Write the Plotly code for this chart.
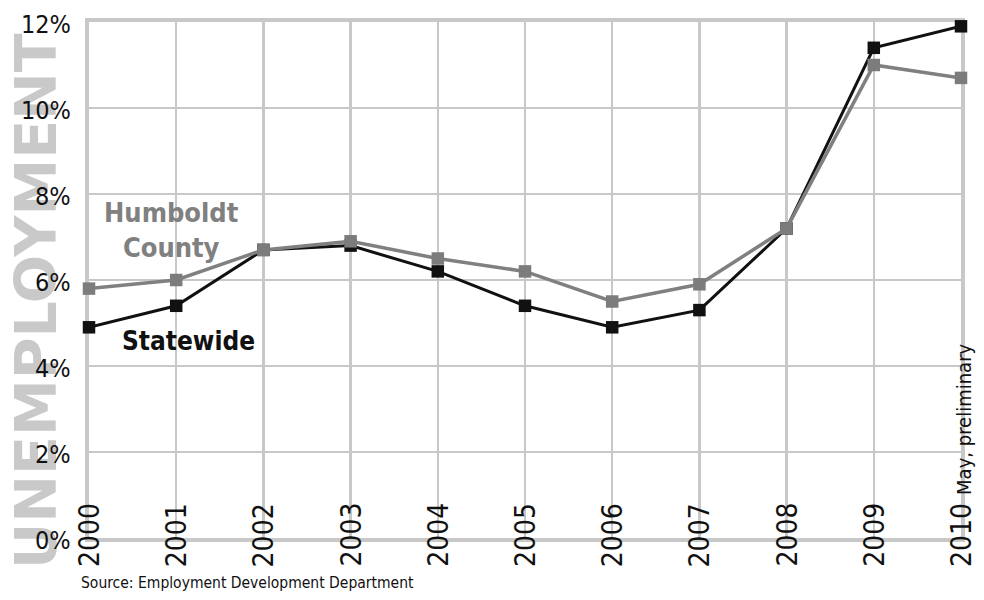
import plotly.graph_objects as go

years = [2000, 2001, 2002, 2003, 2004, 2005, 2006, 2007, 2008, 2009, 2010]
statewide = [4.9, 5.4, 6.7, 6.8, 6.2, 5.4, 4.9, 5.3, 7.2, 11.4, 11.9]
humboldt = [5.8, 6.0, 6.7, 6.9, 6.5, 6.2, 5.5, 5.9, 7.2, 11.0, 10.7]
year_labels = ["2000", "2001", "2002", "2003", "2004", "2005", "2006", "2007", "2008", "2009",
               "2010 <span style='font-size:20px'>May, preliminary</span>"]
y_ticks = [0, 2, 4, 6, 8, 10, 12]

NARROW = "DejaVu Sans Condensed, Liberation Sans Narrow, sans-serif"
GRID = "#c8c8c8"

W, H = 984, 600
ML, MR, MT, MB = 89, 23, 22, 62
PW, PH = W - ML - MR, H - MT - MB
X0, Y0 = ML, MT  # plot-area top-left in window pixels


def px(xp):
    return (xp - X0) / PW


def py(yp):
    return 1 - (yp - Y0) / PH


fig = go.Figure()
fig.add_trace(go.Scatter(
    x=years, y=statewide, mode="lines+markers", name="Statewide",
    line=dict(color="#111111", width=3),
    marker=dict(symbol="square", size=12.5, color="#111111"),
    cliponaxis=False, showlegend=False))
fig.add_trace(go.Scatter(
    x=years, y=humboldt, mode="lines+markers", name="Humboldt County",
    line=dict(color="#808080", width=3.5),
    marker=dict(symbol="square", size=12.5, color="#7c7c7c"),
    cliponaxis=False, showlegend=False))

annotations = []
# Big axis title (drawn first so tick labels sit on top)
annotations.append(dict(
    text="<b>UNEMPLOYMENT</b>", xref="paper", yref="paper",
    x=px(36), y=py(301), xanchor="center", yanchor="middle",
    textangle=-90, showarrow=False, borderpad=0,
    font=dict(family="DejaVu Sans, sans-serif", size=57, color="#c9c9c9")))
# Y tick labels
for v in y_ticks:
    annotations.append(dict(
        text=f"{v}%", xref="paper", yref="y", x=0, y=v, xshift=-16, yshift=-2,
        xanchor="right", yanchor="middle", showarrow=False,
        font=dict(family=NARROW, size=25, color="#111111")))
# X tick labels (rotated, straddling the baseline)
for yr, lab in zip(years, year_labels):
    annotations.append(dict(
        text=lab, xref="x", yref="y", x=yr, y=0, yshift=-31,
        xanchor="center", yanchor="bottom", textangle=-90, showarrow=False,
        font=dict(family=NARROW, size=28, color="#111111")))
# Series labels
annotations.append(dict(
    text="<b>Humboldt<br>County</b>", xref="paper", yref="paper",
    x=px(171), y=py(230), xanchor="center", yanchor="middle",
    showarrow=False, align="center",
    font=dict(family=NARROW, size=27, color="#808080")))
annotations.append(dict(
    text="<b>Statewide</b>", xref="paper", yref="paper",
    x=px(188), y=py(341), xanchor="center", yanchor="middle",
    showarrow=False,
    font=dict(family=NARROW, size=26, color="#111111")))
# Source
annotations.append(dict(
    text="Source: Employment Development Department", xref="paper", yref="paper",
    x=px(79), y=py(583), xanchor="left", yanchor="middle",
    showarrow=False,
    font=dict(family=NARROW, size=15.5, color="#111111")))

fig.update_layout(
    width=W, height=H,
    margin=dict(l=ML, r=MR, t=MT, b=MB),
    paper_bgcolor="white", plot_bgcolor="white",
    hovermode=False,
    annotations=annotations,
    xaxis=dict(range=[2000, 2010], tickvals=years, showticklabels=False,
               showgrid=True, gridcolor=GRID, gridwidth=2.5,
               showline=True, linecolor=GRID, linewidth=4, mirror=True,
               zeroline=False, ticks="", layer="below traces"),
    yaxis=dict(range=[0, 12], tickvals=y_ticks, showticklabels=False,
               showgrid=True, gridcolor=GRID, gridwidth=2.5,
               showline=True, linecolor=GRID, linewidth=4, mirror=True,
               zeroline=False, ticks="", layer="below traces"),
)

fig.write_html("out.html",
               config={"displayModeBar": False, "staticPlot": True},
               post_script="document.body.style.margin='0';document.body.style.overflow='hidden';")
